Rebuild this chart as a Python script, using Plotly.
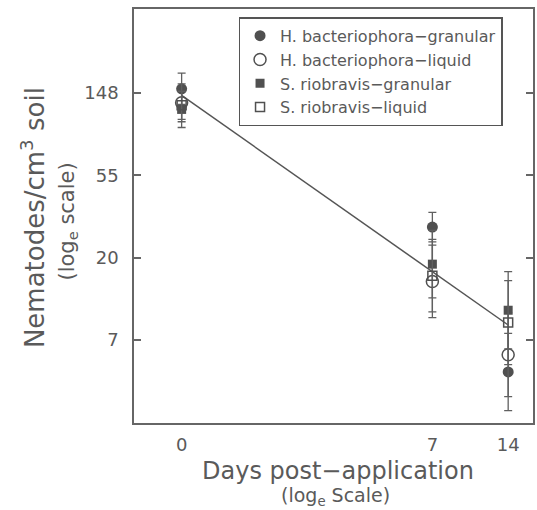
import numpy as np
import plotly.graph_objects as go

# Data (log_e of nematodes / cm^3 soil)
days = [0, 7, 14]
series_names = ["H. bacteriophora−granular", "H. bacteriophora−liquid",
                "S. riobravis−granular", "S. riobravis−liquid"]
hb_granular = [5.05, 3.37, 1.61]
hb_liquid = [4.88, 2.71, 1.82]
sr_granular = [4.80, 2.92, 2.36]
sr_liquid = [4.85, 2.78, 2.21]
hb_granular_se = [0.19, 0.18, 0.47]
hb_liquid_se = [0.23, 0.44, 0.51]
sr_granular_se = [0.22, 0.41, 0.47]
sr_liquid_se = [0.17, 0.44, 0.51]
fit_intercept = 4.97
fit_slope = -1.03
y_tick_vals = [2, 3, 4, 5]
y_tick_text = ["7", "20", "55", "148"]
x_tick_text = ["0", "7", "14"]

x = np.log(np.array(days) + 1.0)

ink = "#505050"
txt = "#5a5a5a"
font_family = "DejaVu Sans"

styles = [
    dict(symbol="circle", size=11, color=ink, line=dict(width=0)),
    dict(symbol="circle-open", size=12, color=ink, line=dict(width=1.5)),
    dict(symbol="square", size=9, color=ink, line=dict(width=0)),
    dict(symbol="square-open", size=9, color=ink, line=dict(width=1.5)),
]
values = [hb_granular, hb_liquid, sr_granular, sr_liquid]
errors = [hb_granular_se, hb_liquid_se, sr_granular_se, sr_liquid_se]

fig = go.Figure()

xf = np.array([x[0], x[-1]])
fig.add_trace(go.Scatter(x=xf, y=fit_intercept + fit_slope * xf, mode="lines",
                         line=dict(color="#555555", width=1.5), showlegend=False,
                         hoverinfo="skip"))

for name, v, e, st in zip(series_names, values, errors, styles):
    fig.add_trace(go.Scatter(
        x=x, y=v, mode="markers", name=name, marker=st,
        error_y=dict(type="data", array=e, visible=True, color="#606060",
                     thickness=1.3, width=4),
    ))

fig.update_layout(
    width=537, height=510,
    margin=dict(l=134, r=2, t=9, b=87),
    paper_bgcolor="white", plot_bgcolor="white",
    font=dict(family=font_family, color=txt, size=18),
    legend=dict(x=0.262, y=0.98, xanchor="left", yanchor="top",
                bordercolor="#555555", borderwidth=1.5, bgcolor="white",
                font=dict(size=16, color=txt), tracegroupgap=0,
                itemsizing="trace"),
    xaxis=dict(range=[-0.395, 2.914], tickvals=list(x), ticktext=x_tick_text,
               showgrid=False, zeroline=False, showline=True, linecolor="#666666",
               linewidth=1.5, mirror=True, ticks="", ticklabelstandoff=5,
               tickfont=dict(size=18, color=txt)),
    yaxis=dict(range=[0.99, 6.02], tickvals=y_tick_vals, ticktext=y_tick_text,
               showgrid=False, zeroline=False, showline=True, linecolor="#666666",
               linewidth=1.5, mirror="ticks", ticks="inside", ticklen=7,
               tickcolor="#666666", tickwidth=1.5, ticklabelstandoff=10,
               tickfont=dict(size=18, color=txt)),
    annotations=[
        dict(text="Nematodes/cm<sup>3</sup> soil", x=-0.253, y=0.495,
             xref="paper", yref="paper", textangle=-90, showarrow=False,
             xanchor="center", yanchor="middle", font=dict(size=26, color=txt)),
        dict(text="(log<sub>e</sub> scale)", x=-0.166, y=0.486,
             xref="paper", yref="paper", textangle=-90, showarrow=False,
             xanchor="center", yanchor="middle", font=dict(size=21, color=txt)),
        dict(text="Days post−application", x=0.511, y=-0.116,
             xref="paper", yref="paper", showarrow=False,
             xanchor="center", yanchor="middle", font=dict(size=24, color=txt)),
        dict(text="(log<sub>e</sub> Scale)", x=0.506, y=-0.177,
             xref="paper", yref="paper", showarrow=False,
             xanchor="center", yanchor="middle", font=dict(size=19, color=txt)),
    ],
)

fig.write_html("out.html", config={"displayModeBar": False},
               post_script="document.body.style.margin='0px';")
